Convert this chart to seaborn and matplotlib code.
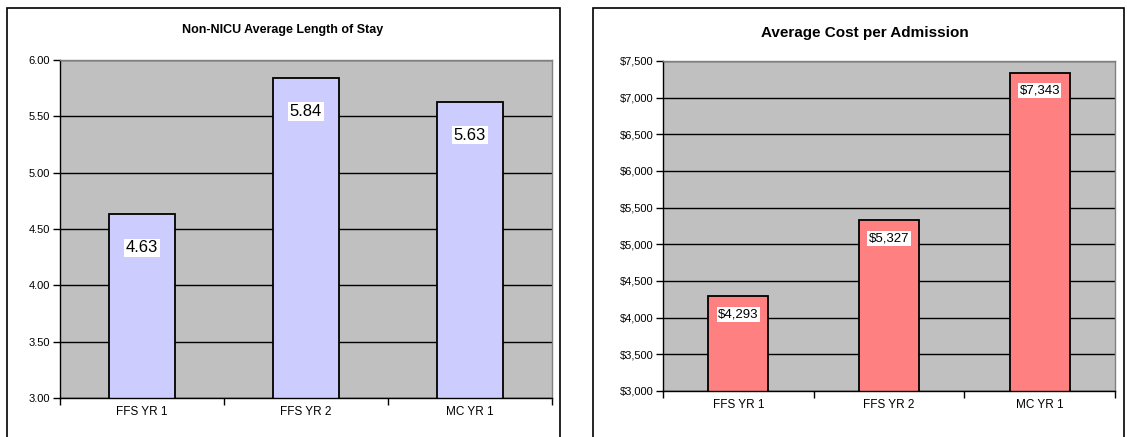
import numpy as np
import matplotlib
matplotlib.use("Agg")
import matplotlib.pyplot as plt
import seaborn as sns
from matplotlib.patches import Rectangle
from matplotlib.ticker import FixedLocator, FuncFormatter


# ------------------------------#
# Data
# ------------------------------#
categories = ["FFS YR 1", "FFS YR 2", "MC YR 1"]
los_values = [4.63, 5.84, 5.63]
cost_values = [4293, 5327, 7343]

los_ticks = [3.0, 3.5, 4.0, 4.5, 5.0, 5.5, 6.0]
cost_ticks = [3000, 3500, 4000, 4500, 5000, 5500, 6000, 6500, 7000, 7500]

sns.set_theme(style="white")
plt.rcParams["font.family"] = ["Liberation Sans", "DejaVu Sans"]
plt.rcParams["text.color"] = "black"
plt.rcParams["xtick.color"] = "black"
plt.rcParams["ytick.color"] = "black"

fig = plt.figure(figsize=(11.27, 4.37), dpi=100)
W, H = 1127, 437


def fx(px):
    return px / W


def fy(py):
    return 1 - py / H


# panel frames
fig.patches.append(Rectangle((fx(7), fy(445)), fx(553), fy(8) - fy(445),
                             transform=fig.transFigure, fill=False,
                             edgecolor="black", linewidth=1.2))
fig.patches.append(Rectangle((fx(593), fy(445)), fx(531), fy(8) - fy(445),
                             transform=fig.transFigure, fill=False,
                             edgecolor="black", linewidth=1.2))


def draw_panel(ax, values, color, ticks, fmt, label_fmt, label_size, label_offset):
    sns.barplot(x=categories, y=values, ax=ax, color=color,
                edgecolor="black", linewidth=1.3, width=0.4, saturation=1)
    ax.set_facecolor("#C0C0C0")
    ax.set_ylim(ticks[0], ticks[-1])
    ax.set_xlim(-0.5, len(categories) - 0.5)
    ax.set_yticks(ticks)
    ax.yaxis.set_major_formatter(FuncFormatter(fmt))
    ax.grid(axis="y", color="black", linewidth=1.0)
    ax.set_axisbelow(True)
    ax.tick_params(axis="y", direction="out", length=5, width=1, color="black",
                   labelsize=8, pad=2, left=True, labelcolor="black")
    ax.tick_params(axis="x", which="major", length=0, labelsize=8.5, pad=6,
                   labelcolor="black")
    ax.xaxis.set_minor_locator(FixedLocator([-0.5, 0.5, 1.5, 2.5]))
    ax.tick_params(axis="x", which="minor", direction="out", length=5,
                   width=1, color="black", bottom=True)
    for side in ["left", "bottom"]:
        ax.spines[side].set_color("black")
        ax.spines[side].set_linewidth(1.0)
    for side in ["top", "right"]:
        ax.spines[side].set_color("#808080")
        ax.spines[side].set_linewidth(1.0)
    ax.set_xlabel("")
    ax.set_ylabel("")
    for i, v in enumerate(values):
        ax.annotate(label_fmt(v), (i, v), xytext=(0, -label_offset),
                    textcoords="offset points", ha="center", va="center",
                    fontsize=label_size, color="black",
                    bbox=dict(boxstyle="square,pad=0.1", facecolor="white",
                              edgecolor="none"))


ax1 = fig.add_axes([fx(60), fy(398), fx(492), fy(60) - fy(398)])
draw_panel(ax1, los_values, "#CCCCFF", los_ticks,
           lambda v, p: f"{v:.2f}", lambda v: f"{v:.2f}", 12, 24)
fig.text(fx(283), fy(30), "Non-NICU Average Length of Stay", ha="center",
         va="center", fontsize=9, fontweight="bold")

ax2 = fig.add_axes([fx(663), fy(391), fx(452), fy(61) - fy(391)])
draw_panel(ax2, cost_values, "#FF8080", cost_ticks,
           lambda v, p: f"${v:,.0f}", lambda v: f"${v:,.0f}", 9.5, 13)
fig.text(fx(865), fy(33), "Average Cost per Admission", ha="center",
         va="center", fontsize=11, fontweight="bold")

fig.savefig("out.png", dpi=100)
